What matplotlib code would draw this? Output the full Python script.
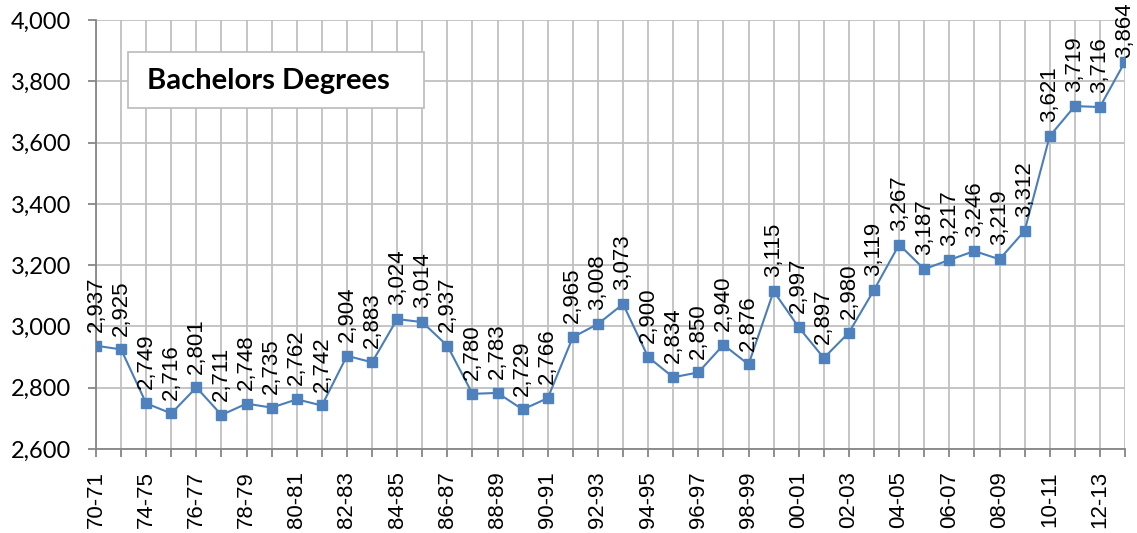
import matplotlib
matplotlib.use("Agg")
import matplotlib.pyplot as plt
from matplotlib.patches import Rectangle

years = ["70-71", "72-73", "74-75", "75-76", "76-77", "77-78", "78-79", "79-80",
         "80-81", "81-82", "82-83", "83-84", "84-85", "85-86", "86-87", "87-88",
         "88-89", "89-90", "90-91", "91-92", "92-93", "93-94", "94-95", "95-96",
         "96-97", "97-98", "98-99", "99-00", "00-01", "01-02", "02-03", "03-04",
         "04-05", "05-06", "06-07", "07-08", "08-09", "09-10", "10-11", "11-12",
         "12-13", "13-14"]
degrees = [2937, 2925, 2749, 2716, 2801, 2711, 2748, 2735, 2762, 2742,
           2904, 2883, 3024, 3014, 2937, 2780, 2783, 2729, 2766, 2965,
           3008, 3073, 2900, 2834, 2850, 2940, 2876, 3115, 2997, 2897,
           2980, 3119, 3267, 3187, 3217, 3246, 3219, 3312, 3621, 3719,
           3716, 3864]
y_ticks = [2600, 2800, 3000, 3200, 3400, 3600, 3800, 4000]
title = "Bachelors Degrees"

fig = plt.figure(figsize=(11.37, 5.33), dpi=100)
ax = fig.add_axes([96 / 1137, 1 - 449 / 533, (1125 - 96) / 1137, (449 - 20) / 533])

x = list(range(len(years)))
ax.plot(x, degrees, color="#4A7EBB", linewidth=1.5, marker="s", markersize=6.5,
        markerfacecolor="#4F81BD", markeredgecolor="#4F81BD", zorder=3)

for i, (xi, v) in enumerate(zip(x, degrees)):
    # last label gets pushed down so it stays inside the picture
    off = 3 if i == len(x) - 1 else 10
    ax.annotate(f"{v:,}", (xi, v), xytext=(0, off), textcoords="offset points",
                rotation=90, ha="center", va="bottom", fontsize=16,
                family="Liberation Sans", annotation_clip=False, clip_on=False)

ax.set_xlim(0, len(years) - 1)
ax.set_ylim(2600, 4000)
ax.set_yticks(y_ticks)
ax.set_yticklabels([f"{t:,}" for t in y_ticks], family="Lato", fontsize=17)
ax.set_xticks(x)
ax.set_xticklabels([lab if i % 2 == 0 else "" for i, lab in enumerate(years)],
                   rotation=90, family="Liberation Sans", fontsize=16)

ax.grid(True, color="#C0C0C0", linewidth=1.3)
ax.set_axisbelow(True)
for s in ["top", "right"]:
    ax.spines[s].set_visible(False)
for s in ["left", "bottom"]:
    ax.spines[s].set_color("#868686")
    ax.spines[s].set_linewidth(1.3)
ax.tick_params(axis="both", color="#868686", length=6, width=1.3)
ax.tick_params(axis="y", pad=12)
ax.tick_params(axis="x", pad=10)

# title box
fig.patches.append(Rectangle((128 / 1137, 1 - 108 / 533), 296 / 1137, 56 / 533,
                             transform=fig.transFigure, facecolor="white",
                             edgecolor="#BFBFBF", linewidth=1.3, zorder=5))
fig.text(147 / 1137, 1 - 81 / 533, title, fontsize=21, fontweight="bold",
         family="Lato", va="center", ha="left", zorder=6)

fig.savefig("out.png", dpi=100)
